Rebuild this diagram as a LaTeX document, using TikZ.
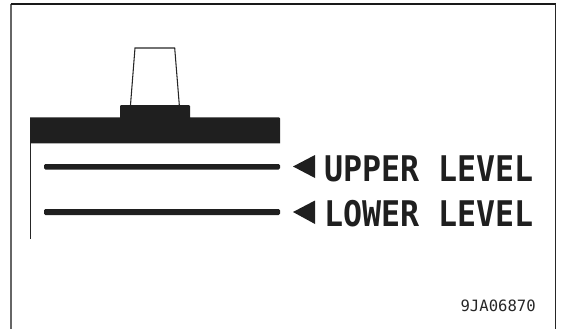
\documentclass[tikz,border=0pt]{standalone}
\usepackage{fontspec}
\setmainfont{DejaVu Sans Mono}
\tikzset{
  px/.style={x=0.75pt,y=-0.75pt},
  ink/.style={fill=black!88,draw=none},
  level/.style={inner sep=0pt,anchor=west,text=black!88,xscale=0.895,font=\fontsize{26.5}{27}\selectfont\bfseries},
  tip/.style={ink}
}
\begin{document}
\begin{tikzpicture}[px]
\useasboundingbox (0,0) rectangle (561,329);
\draw[line width=1.1pt,black!60] (11,3.5) -- (11,329);
\draw[line width=0.9pt,black!90] (10.5,4) -- (555.5,4);
\draw[line width=0.9pt,black!85] (555.5,3.5) -- (555.5,329);
% cap
\draw[line width=0.8pt,black!85] (130.5,105) -- (135,48) -- (174.7,48) -- (179.3,105);
\fill[ink] (30,117.3) -- (120,117.3) -- (120,106) -- (121,105) -- (189,105) -- (190,106) -- (190,117.3) -- (279,117.3) -- (280,118.3) -- (280,143.3) -- (30,143.3) -- cycle;
\draw[line width=0.8pt,black!85] (30.7,143) -- (30.7,239);
\fill[ink,rounded corners=1pt] (44,164) rectangle (280,169.5);
\fill[ink,rounded corners=1pt] (44,209) rectangle (280,215);
\fill[tip] (293,166.5) -- (315,155) -- (315,178) -- cycle;
\fill[tip] (293,212) -- (315,200.5) -- (315,224) -- cycle;
\node[level] (up) at (324,168.5) {UPPER LEVEL};
\node[level] (lo) at (324,214) {LOWER LEVEL};
\node[inner sep=0pt,anchor=east,text=black!85,font=\fontsize{11.7}{12}\selectfont] (code) at (536,306) {9JA06870};
\end{tikzpicture}
\end{document}
